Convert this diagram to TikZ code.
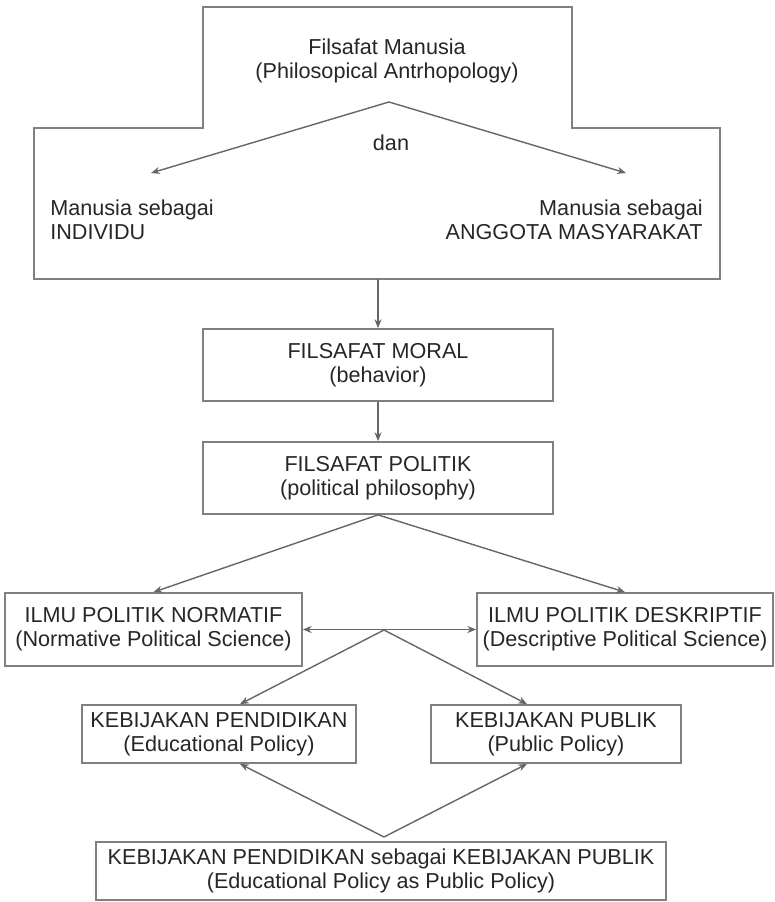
\documentclass[tikz,border=0pt]{standalone}
\usepackage{fontspec}
\setmainfont{Liberation Sans}
\usepackage{tikz}
\usetikzlibrary{arrows.meta,positioning}
\tikzset{
  box/.style={draw=black!50,line width=1pt,align=center,text=black!85,
              inner sep=0pt,minimum width=7.0cm,minimum height=1.44cm},
  wbox/.style={box,minimum width=5.94cm,minimum height=1.46cm},
  kbox/.style={box,minimum height=1.16cm},
  lbl/.style={align=center,text=black!85,inner sep=0pt},
  outl/.style={draw=black!50,line width=1pt},
  arr/.style={-{Stealth[length=5pt,width=4pt]},draw=black!60,line width=0.8pt},
  darr/.style={{Stealth[length=5pt,width=4pt]}-{Stealth[length=5pt,width=4pt]},
               draw=black!60,line width=0.8pt},
}

\begin{document}
\begin{tikzpicture}[every node/.style={font=\fontsize{12.3}{13.8}\selectfont}]
\path[use as bounding box] (0,0) rectangle (15.5,18.04);

%% ---------- filsafat manusia (top shape) ----------
\draw[outl] (4.06,17.90) -- (11.44,17.90) -- (11.44,15.48) -- (14.40,15.48)
  -- (14.40,12.46) -- (0.68,12.46) -- (0.68,15.48) -- (4.06,15.48) -- cycle;

\node[lbl] (manusia) at (7.74,16.82)
  {Filsafat Manusia\\(Philosopical Antrhopology)};
\node[lbl] (dan) at (7.82,15.18) {dan};
\node[lbl,align=left,anchor=west] (indiv) at (1.0,13.64)
  {Manusia sebagai\\INDIVIDU};
\node[lbl,align=right,anchor=east] (anggota) at (14.06,13.64)
  {Manusia sebagai\\ANGGOTA MASYARAKAT};

\coordinate (split) at (7.78,16.00);
\coordinate (tipL) at (3.02,14.58);
\coordinate (tipR) at (12.52,14.58);
\coordinate (topbot) at (7.56,12.46);
\draw[arr] (split) -- (tipL);
\draw[arr] (split) -- (tipR);

%% ---------- filsafat moral / politik ----------
\node[box] (moral) at (7.56,10.74) {FILSAFAT MORAL\\(behavior)};
\node[box] (politik) at (7.56,8.48)
  {FILSAFAT POLITIK\\(political philosophy)};
\draw[arr] (topbot) -- (moral);
\draw[arr] (moral) -- (politik);

%% ---------- ilmu politik ----------
\node[wbox] (normatif) at (3.07,5.45)
  {ILMU POLITIK NORMATIF\\(Normative Political Science)};
\node[wbox,minimum width=5.92cm] (deskriptif) at (12.50,5.45)
  {ILMU POLITIK DESKRIPTIF\\(Descriptive Political Science)};
\draw[arr] (politik.south) -- (normatif.north);
\draw[arr] (politik.south) -- (deskriptif.north);
\draw[darr] (normatif) -- (deskriptif);

%% ---------- kebijakan ----------
\node[kbox,minimum width=5.48cm] (pend) at (4.38,3.36)
  {KEBIJAKAN PENDIDIKAN\\(Educational Policy)};
\node[kbox,minimum width=5.0cm] (publik) at (11.12,3.36)
  {KEBIJAKAN PUBLIK\\(Public Policy)};
\coordinate (mid) at (7.68,5.44);
\draw[arr] (mid) -- ([xshift=0.42cm]pend.north);
\draw[arr] (mid) -- ([xshift=-0.58cm]publik.north);

\node[kbox,minimum width=11.4cm] (gabung) at (7.62,0.62)
  {KEBIJAKAN PENDIDIKAN sebagai KEBIJAKAN PUBLIK\\(Educational Policy as Public Policy)};
\coordinate (bapex) at (7.68,1.30);
\draw[arr] (bapex) -- ([xshift=0.42cm]pend.south);
\draw[arr] (bapex) -- ([xshift=-0.58cm]publik.south);
\end{tikzpicture}
\end{document}
